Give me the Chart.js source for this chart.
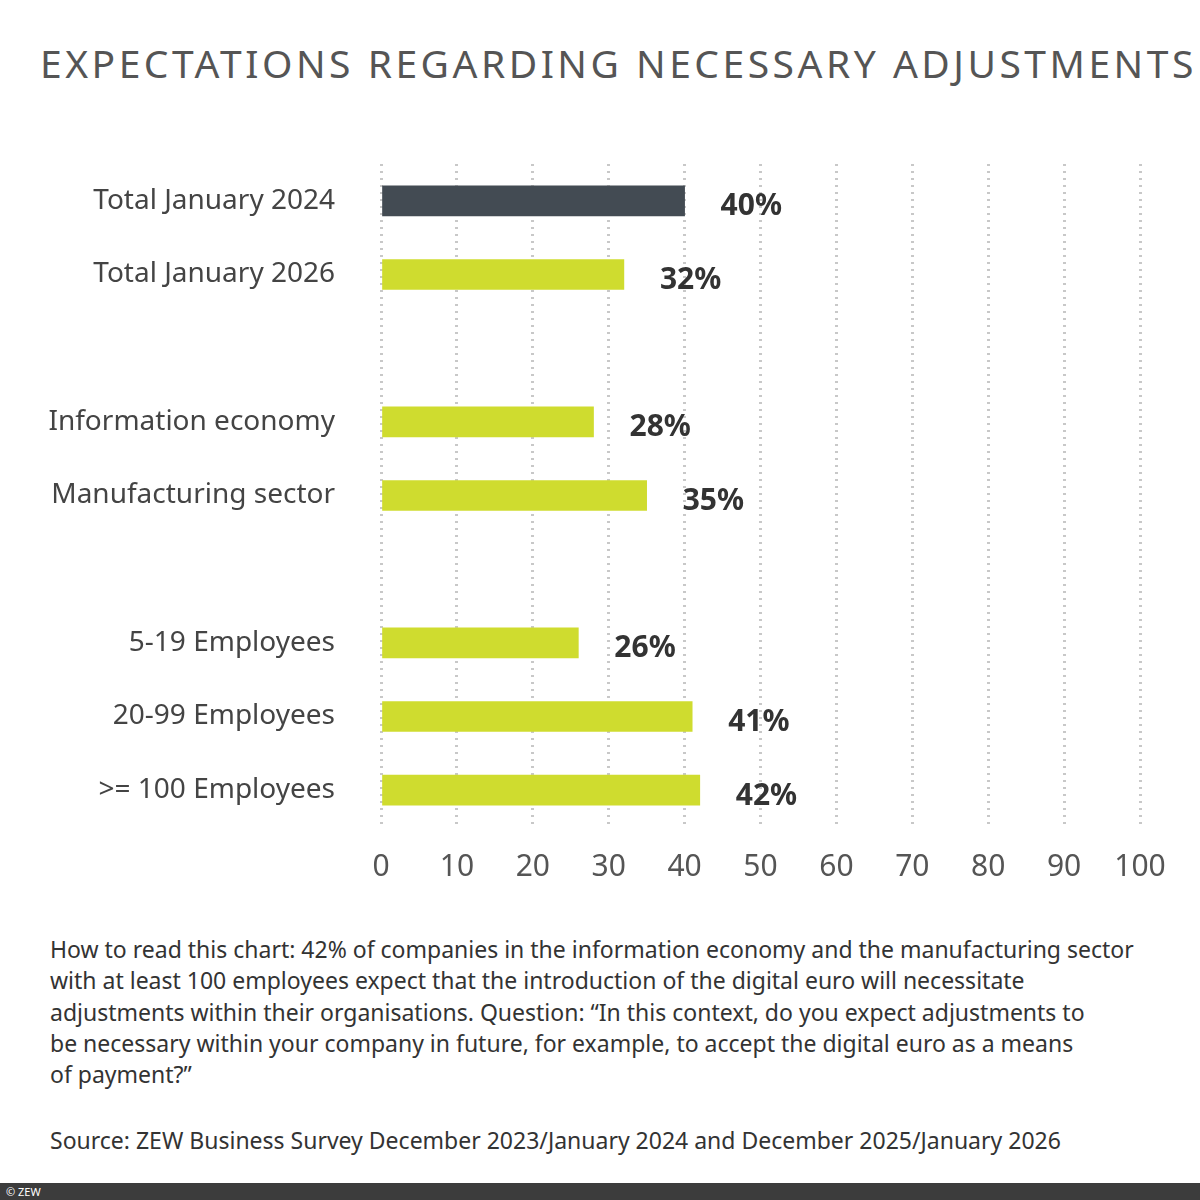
<!DOCTYPE html>
<html>
<head>
<meta charset="utf-8">
<script src="https://cdn.jsdelivr.net/npm/chart.js@4"></script>
<style>
  body { margin: 0; width: 1200px; height: 1200px; background: #fff; position: relative; font-family: "Noto Sans", sans-serif; overflow: hidden; }
  #title { position: absolute; left: 40px; top: 36px; font-size: 39px; letter-spacing: 3.5px; color: #555; white-space: nowrap; }
  #wrap { position: absolute; left: 0; top: 0; width: 1200px; height: 900px; }
  #note { position: absolute; left: 50px; top: 934px; font-size: 23px; line-height: 31.3px; color: #333; white-space: nowrap; }
  #source { position: absolute; left: 50px; top: 1124px; font-size: 23px; color: #333; white-space: nowrap; }
  #foot { position: absolute; left: 0; top: 1183px; width: 1200px; height: 17px; background: #3c3c3c; color: #fff; font-size: 11px; line-height: 17px; padding-left: 6px; box-sizing: border-box; }
</style>
</head>
<body>
<div id="title">EXPECTATIONS REGARDING NECESSARY ADJUSTMENTS</div>
<div id="wrap"><canvas id="chart"></canvas></div>
<div id="note">How to read this chart: 42% of companies in the information economy and the manufacturing sector<br>with at least 100 employees expect that the introduction of the digital euro will necessitate<br>adjustments within their organisations. Question: “In this context, do you expect adjustments to<br>be necessary within your company in future, for example, to accept the digital euro as a means<br>of payment?”</div>
<div id="source">Source: ZEW Business Survey December 2023/January 2024 and December 2025/January 2026</div>
<div id="foot">© ZEW</div>
<script>
var categories = ['Total January 2024', 'Total January 2026', '', 'Information economy', 'Manufacturing sector', '', '5-19 Employees', '20-99 Employees', '>= 100 Employees'];
var values = [40, 32, null, 28, 35, null, 26, 41, 42];
var barColors = ['#434b53', '#cfdc2f', '#cfdc2f', '#cfdc2f', '#cfdc2f', '#cfdc2f', '#cfdc2f', '#cfdc2f', '#cfdc2f'];

var valueLabels = {
    id: 'valueLabels',
    afterDatasetsDraw: function(chart) {
        var c = chart.ctx;
        var meta = chart.getDatasetMeta(0);
        c.save();
        c.font = 'bold 30px "Noto Sans"';
        c.fillStyle = '#333';
        c.textAlign = 'left';
        c.textBaseline = 'middle';
        meta.data.forEach(function(bar, i) {
            if (values[i] === null) return;
            c.fillText(values[i] + '%', bar.x + 36, bar.y + 6);
        });
        c.restore();
    }
};

new Chart(document.getElementById('chart'), {
    type: 'bar',
    data: {
        labels: categories,
        datasets: [{ data: values, backgroundColor: barColors, barThickness: 30 }]
    },
    options: {
        indexAxis: 'y',
        responsive: true,
        maintainAspectRatio: false,
        animation: false,
        layout: { padding: { top: 164, right: 60, bottom: 0, left: 0 } },
        plugins: { legend: { display: false }, tooltip: { enabled: false } },
        scales: {
            x: {
                min: 0, max: 100,
                ticks: { stepSize: 10, color: '#555', font: { size: 30, family: 'Noto Sans' }, padding: 22 },
                grid: { color: '#c8c8c8', lineWidth: 3, drawTicks: false },
                border: { display: false, dash: [2, 5] },
                afterFit: function(s) { s.height = 73; }
            },
            y: {
                ticks: { color: '#444', font: { size: 28, family: 'Noto Sans' }, padding: 38 },
                grid: { display: false },
                border: { display: false },
                afterFit: function(s) { s.width = 381; }
            }
        }
    },
    plugins: [valueLabels]
});
</script>
</body>
</html>
